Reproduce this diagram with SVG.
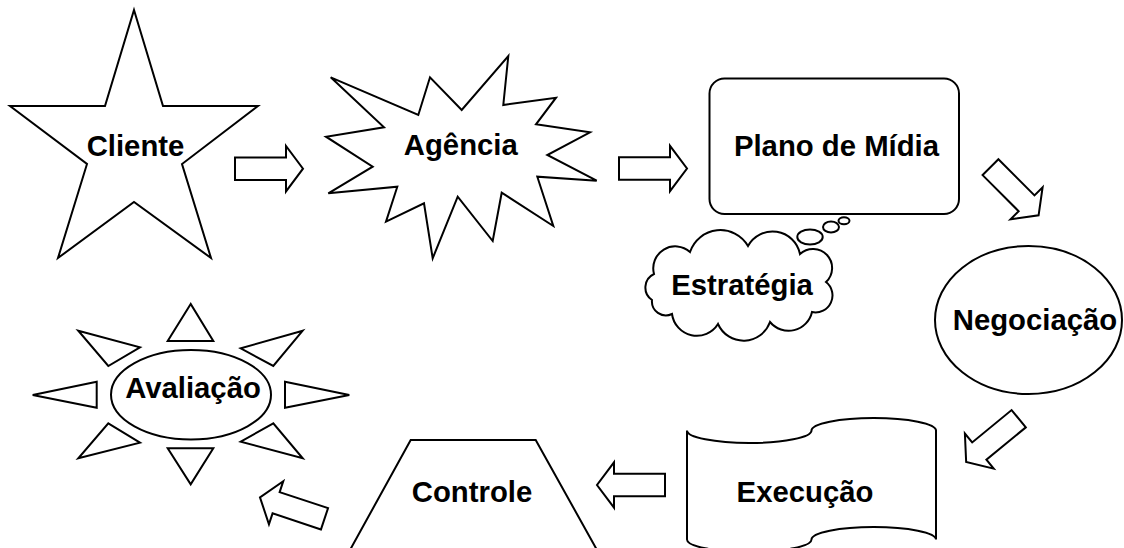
<svg xmlns="http://www.w3.org/2000/svg" xmlns:xlink="http://www.w3.org/1999/xlink" width="1124" height="548" viewBox="0 0 1124 548">
<style>
.s{fill:#fff;stroke:#000;stroke-width:2;stroke-linejoin:miter}
.t{font-family:"Liberation Sans",Arial,sans-serif;font-weight:bold;font-size:29.3px;fill:#000;text-anchor:middle}
</style>
<defs>
<path id="arr" d="M0,-11.2 H51 V-22.7 L68,0 L51,22.7 V11.2 H0 Z"/>
</defs>
<rect width="1124" height="548" fill="#fff"/>
<g id="connectors" class="s">
<use xlink:href="#arr" href="#arr" transform="translate(235,168.7)"/>
<use xlink:href="#arr" href="#arr" transform="translate(619,168.5)"/>
<use xlink:href="#arr" href="#arr" transform="translate(990.5,167.2) rotate(45)"/>
<use xlink:href="#arr" href="#arr" transform="translate(1018.7,418.7) rotate(140.6)"/>
<use xlink:href="#arr" href="#arr" transform="translate(665,485) rotate(180)"/>
<use xlink:href="#arr" href="#arr" transform="translate(324.5,518.8) rotate(198.4)"/>
</g>
<g id="cliente">
<polygon class="s" points="134,10 163,106 258,106 182,164 211,258 134,202 58,258 87,164 10,106 105,106"/>
<text class="t" x="135.5" y="155.5">Cliente</text>
</g>
<g id="agencia">
<polygon class="s" points="330.7,77.3 418.3,115 430,77.3 461.7,110 508.3,56 503.3,105 556,97.7 536,124.3 590,132.3 547.3,155 596.7,180.7 537.3,176.7 553.3,226 501.7,192.7 492.7,241 457.7,196.7 432.7,258.3 424,203.3 386,221.7 397.3,186.7 328.3,193.3 372.7,166.7 326,136.7 384,127.3"/>
<text class="t" x="460.8" y="155">Agência</text>
</g>
<g id="plano">
<rect class="s" x="709.5" y="78.5" width="249.5" height="135.5" rx="15" ry="15"/>
<text class="t" x="836.5" y="156">Plano de Mídia</text>
</g>
<g id="estrategia">
<path class="s" d="M652,300 A15,15 0 0 1 654,274 A22,22 0 0 1 690,252 A32,32 0 0 1 748,246 A28,28 0 0 1 800,254 A18,18 0 0 1 826,282 A17,17 0 0 1 812,312 A24,24 0 0 1 770,322 A28,28 0 0 1 718,324 A25,25 0 0 1 672,314 A14,14 0 0 1 652,300 Z"/>
<ellipse class="s" cx="810" cy="237" rx="12.7" ry="7.5"/>
<ellipse class="s" cx="831" cy="227" rx="8" ry="5.5"/>
<ellipse class="s" cx="844" cy="220.7" rx="5.5" ry="3.5"/>
<text class="t" x="742" y="294.5">Estratégia</text>
</g>
<g id="negociacao">
<ellipse class="s" cx="1028.5" cy="320" rx="93.5" ry="74"/>
<text class="t" x="1035" y="330">Negociação</text>
</g>
<g id="execucao">
<path class="s" d="M687,430.5 A62.25,12.5 0 0 0 749.25,443 A62.25,12.5 0 0 0 811.5,430.5 A62.25,12.5 0 0 1 873.75,418 A62.25,12.5 0 0 1 936,430.5 L936,539.5 A62.25,12.5 0 0 0 873.75,527 A62.25,12.5 0 0 0 811.5,539.5 A62.25,12.5 0 0 1 749.25,552 A62.25,12.5 0 0 1 687,539.5 Z"/>
<text class="t" x="805" y="501.5">Execução</text>
</g>
<g id="controle">
<polygon class="s" points="410.7,440 535.7,440 597,550 350,550"/>
<text class="t" x="472" y="501.5">Controle</text>
</g>
<g id="avaliacao">
<g class="s">
<polygon points="190.7,304 167.7,341 213.3,341"/>
<polygon points="167.7,448.3 213.3,448.3 190.7,484.3"/>
<polygon points="32.7,395 96.7,381.7 96.7,407.7"/>
<polygon points="285,381.7 285,407.7 349.3,395"/>
<polygon points="78.3,330.7 140,347.3 108.3,366"/>
<polygon points="302.7,330.7 240.7,348.3 273.3,366"/>
<polygon points="108.3,423.3 140,442.7 78.3,458.3"/>
<polygon points="273.3,423.3 240.7,441.7 302.7,458.3"/>
<ellipse cx="191" cy="394.7" rx="80" ry="44.7"/>
</g>
<text class="t" x="193" y="398">Avaliação</text>
</g>
</svg>
